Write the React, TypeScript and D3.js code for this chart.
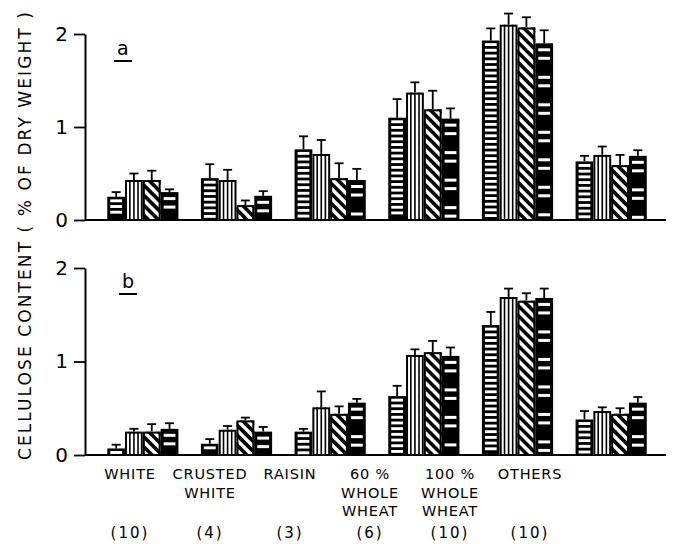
import React, { useRef, useEffect } from 'react'
import * as d3 from 'd3'

// bread types along the x axis
const categories = ['WHITE', 'CRUSTED WHITE', 'RAISIN', '60% WHOLE WHEAT', '100% WHOLE WHEAT', 'OTHERS']
const labelLines = [['WHITE'], ['CRUSTED', 'WHITE'], ['RAISIN'], ['60 %', 'WHOLE', 'WHEAT'], ['100 %', 'WHOLE', 'WHEAT'], ['OTHERS']]
const sampleSizes = ['(10)', '(4)', '(3)', '(6)', '(10)', '(10)']
// four methods per bread type, each drawn with its own hatch
const methods = ['horizontal', 'vertical', 'diagonal', 'dashed']
const yTicks = [0, 1, 2]

// panel a: mean and upper error per bread type (rows) and method (cols)
const meanA = [
  [0.25, 0.43, 0.43, 0.30],
  [0.45, 0.43, 0.16, 0.26],
  [0.76, 0.71, 0.45, 0.43],
  [1.10, 1.37, 1.19, 1.09],
  [1.93, 2.10, 2.07, 1.90],
  [0.63, 0.70, 0.59, 0.69],
]
const errA = [
  [0.05, 0.07, 0.10, 0.03],
  [0.15, 0.11, 0.05, 0.05],
  [0.14, 0.15, 0.16, 0.12],
  [0.20, 0.11, 0.20, 0.11],
  [0.13, 0.12, 0.11, 0.14],
  [0.06, 0.09, 0.11, 0.06],
]
// panel b
const meanB = [
  [0.07, 0.25, 0.25, 0.28],
  [0.12, 0.27, 0.37, 0.25],
  [0.25, 0.51, 0.44, 0.56],
  [0.63, 1.07, 1.10, 1.06],
  [1.39, 1.69, 1.65, 1.68],
  [0.38, 0.47, 0.44, 0.56],
]
const errB = [
  [0.04, 0.03, 0.08, 0.06],
  [0.05, 0.04, 0.03, 0.05],
  [0.03, 0.17, 0.08, 0.04],
  [0.11, 0.06, 0.12, 0.09],
  [0.14, 0.09, 0.08, 0.10],
  [0.09, 0.04, 0.06, 0.06],
]

const width = 675
const height = 544
const axisX = 85
const axisRight = 666
const font = '"DejaVu Sans", "Noto Sans", sans-serif'

const App = () => {
  const svgRef = useRef<SVGSVGElement>(null)

  useEffect(() => {
    const svg = d3.select(svgRef.current)
    svg.selectAll('*').remove()

    const x0 = d3.scaleBand<string>()
      .domain(categories)
      .range([axisX + 11, axisRight - 8])
      .paddingInner(0.24)
      .paddingOuter(0.12)
    const x1 = d3.scaleBand<number>()
      .domain(d3.range(methods.length))
      .range([0, x0.bandwidth()])

    const drawPanel = (means: number[][], errs: number[][], yTop: number, yBottom: number, tag: string, tagPos: [number, number]) => {
      const y = d3.scaleLinear().domain([0, 2]).range([yBottom, yTop])
      const g = svg.append('g')

      // y axis
      const ax = g.append('g')
        .attr('transform', `translate(${axisX},0)`)
        .call(d3.axisLeft(y).tickValues(yTicks).tickSize(11).tickSizeOuter(0).tickPadding(6).tickFormat(d3.format('d')))
      ax.select('.domain').attr('stroke-width', 2)
      ax.selectAll('.tick line').attr('stroke-width', 1.8)
      ax.selectAll('.tick text').attr('font-size', 20).attr('font-family', font).attr('fill', '#000')

      // baseline
      g.append('line')
        .attr('x1', axisX).attr('x2', axisRight)
        .attr('y1', y(0)).attr('y2', y(0))
        .attr('stroke', '#000').attr('stroke-width', 2)

      // panel letter
      g.append('text')
        .attr('x', tagPos[0]).attr('y', tagPos[1])
        .attr('font-family', font).attr('font-size', 19).attr('fill', '#000')
        .text(tag)
      g.append('line')
        .attr('x1', tagPos[0] - 3).attr('x2', tagPos[0] + 15)
        .attr('y1', tagPos[1] + 6).attr('y2', tagPos[1] + 6)
        .attr('stroke', '#000').attr('stroke-width', 2)

      categories.forEach((cat, i) => {
        means[i].forEach((v, j) => {
          const bx = x0(cat)! + x1(j)!
          const bw = x1.bandwidth()
          const top = y(v)
          const bot = y(0)
          const cx = bx + bw / 2

          // error bar
          const et = y(v + errs[i][j])
          g.append('line').attr('x1', cx).attr('x2', cx).attr('y1', top).attr('y2', et)
            .attr('stroke', '#000').attr('stroke-width', 1.8)
          g.append('line').attr('x1', cx - 4.5).attr('x2', cx + 4.5).attr('y1', et).attr('y2', et)
            .attr('stroke', '#000').attr('stroke-width', 1.8)

          const m = methods[j]
          const bar = g.append('g')
          const clipId = `clip-${tag}-${i}-${j}`
          svg.append('clipPath').attr('id', clipId)
            .append('rect').attr('x', bx).attr('y', top).attr('width', bw).attr('height', bot - top)

          if (m === 'horizontal') {
            bar.append('rect').attr('x', bx).attr('y', top).attr('width', bw).attr('height', bot - top).attr('fill', '#000')
            for (let yy = top + 2.6; yy + 2.6 < bot - 1; yy += 5.7) {
              bar.append('rect').attr('x', bx + 3).attr('y', yy).attr('width', bw - 6).attr('height', 2.9).attr('fill', '#fff')
            }
          } else if (m === 'vertical') {
            bar.append('rect').attr('x', bx).attr('y', top).attr('width', bw).attr('height', bot - top).attr('fill', '#fff')
            ;[0.27, 0.5, 0.73].forEach(f => {
              bar.append('line').attr('x1', bx + bw * f).attr('x2', bx + bw * f).attr('y1', top).attr('y2', bot)
                .attr('stroke', '#000').attr('stroke-width', 1.6)
            })
            bar.append('rect').attr('x', bx + 1).attr('y', top + 1).attr('width', bw - 2).attr('height', bot - top - 1)
              .attr('fill', 'none').attr('stroke', '#000').attr('stroke-width', 2)
          } else if (m === 'diagonal') {
            bar.append('rect').attr('x', bx).attr('y', top).attr('width', bw).attr('height', bot - top).attr('fill', '#fff')
            const stripes = bar.append('g').attr('clip-path', `url(#${clipId})`)
            for (let yy = top - bw - 10; yy < bot + 10; yy += 10) {
              stripes.append('line')
                .attr('x1', bx - 2).attr('y1', yy)
                .attr('x2', bx + bw + 2).attr('y2', yy + bw + 4)
                .attr('stroke', '#000').attr('stroke-width', 3.6)
            }
            bar.append('rect').attr('x', bx + 1).attr('y', top + 1).attr('width', bw - 2).attr('height', bot - top - 1)
              .attr('fill', 'none').attr('stroke', '#000').attr('stroke-width', 2)
          } else {
            bar.append('rect').attr('x', bx).attr('y', top).attr('width', bw).attr('height', bot - top).attr('fill', '#000')
            for (let yy = top + 5; yy + 3 < bot - 1; yy += 27.5) {
              bar.append('rect').attr('x', bx + 3).attr('y', yy).attr('width', bw - 6).attr('height', 3).attr('fill', '#fff')
              if (yy + 11.5 < bot - 1) {
                bar.append('rect').attr('x', bx + 3).attr('y', yy + 8.5).attr('width', bw - 6).attr('height', 3).attr('fill', '#fff')
              }
            }
          }
        })
      })
    }

    drawPanel(meanA, errA, 34, 220, 'a', [117, 55])
    drawPanel(meanB, errB, 268, 455, 'b', [122, 288])

    // category labels
    const xl = d3.scalePoint<string>().domain(categories).range([130, 530])
    categories.forEach((cat, i) => {
      const t = svg.append('text')
        .attr('text-anchor', 'middle')
        .attr('font-family', font)
        .attr('font-size', 14.5)
        .attr('letter-spacing', 0.8)
        .attr('fill', '#000')
      labelLines[i].forEach((ln, k) => {
        t.append('tspan').attr('x', xl(cat)!).attr('y', 479 + k * 18.5).text(ln)
      })
      svg.append('text')
        .attr('x', xl(cat)!).attr('y', 538)
        .attr('text-anchor', 'middle')
        .attr('font-family', font)
        .attr('font-size', 15)
        .attr('letter-spacing', 2)
        .attr('fill', '#000')
        .text(sampleSizes[i])
    })

    // y axis title
    svg.append('text')
      .attr('transform', `translate(31,${(12 + 460) / 2}) rotate(-90)`)
      .attr('text-anchor', 'middle')
      .attr('font-family', font)
      .attr('font-size', 17)
      .attr('fill', '#000')
      .attr('textLength', 448)
      .attr('lengthAdjust', 'spacing')
      .text('CELLULOSE  CONTENT  ( % OF  DRY  WEIGHT )')
  }, [])

  return (
    <svg ref={svgRef} width={width} height={height}
      style={{ position: 'absolute', left: 0, top: 0, background: '#fff' }} />
  )
}

export default App
